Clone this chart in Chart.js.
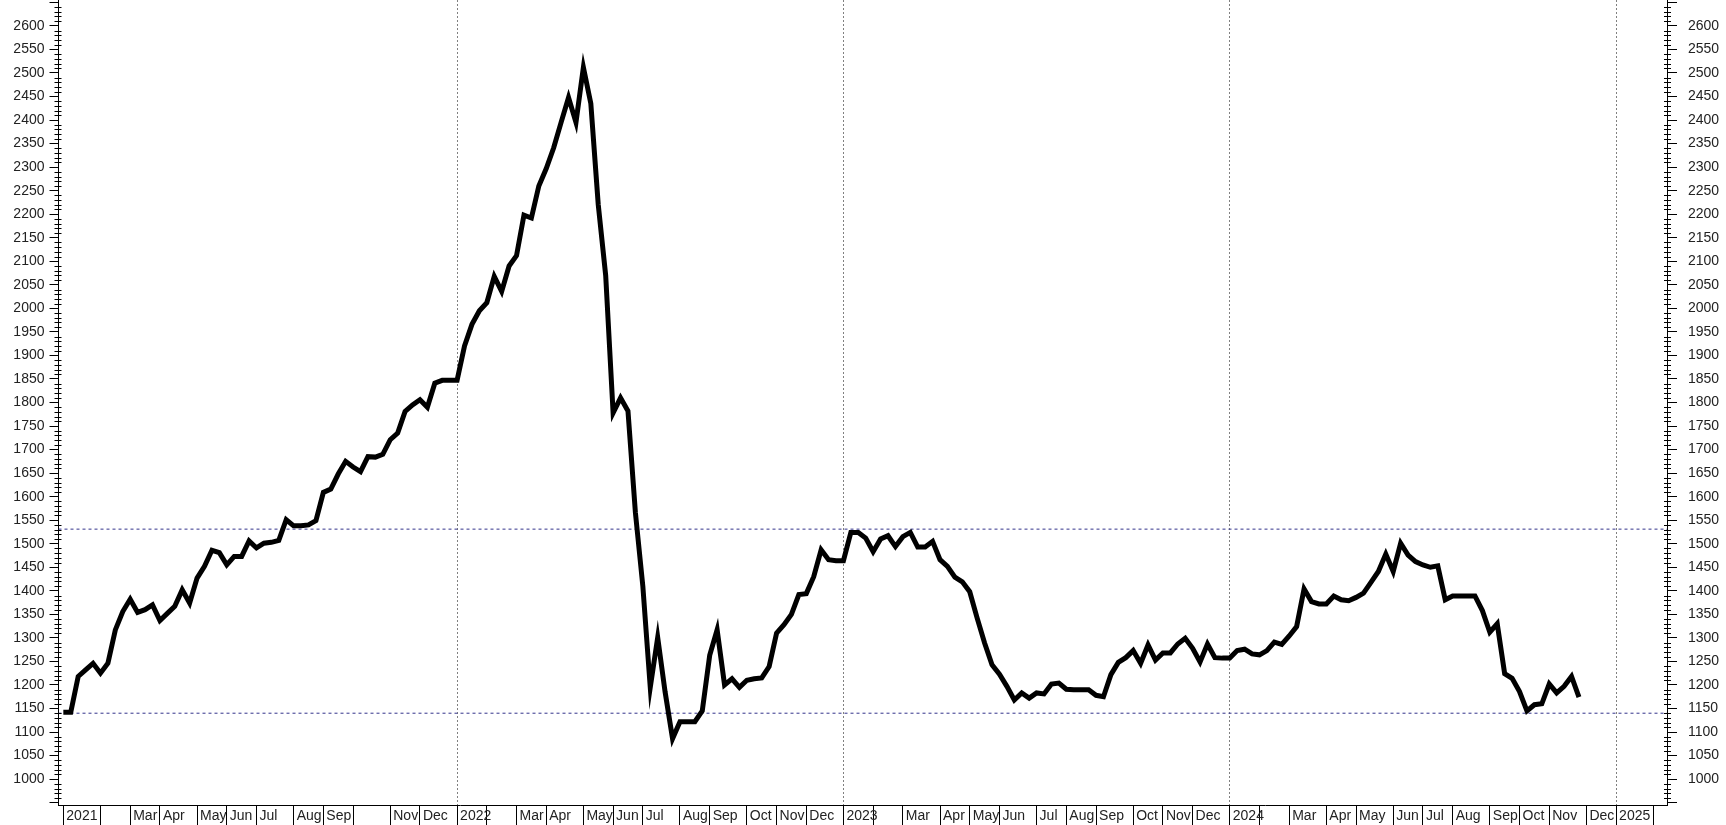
<!DOCTYPE html>
<html>
<head>
<meta charset="utf-8">
<title>Weekly close 2021-2024</title>
<script src="https://cdn.jsdelivr.net/npm/chart.js@4.4.1/dist/chart.umd.min.js"></script>
<style>
  html, body { margin: 0; padding: 0; background: #fff; }
  #wrap { position: relative; width: 1726px; height: 825px; }
</style>
</head>
<body>
<div id="wrap"><canvas id="priceChart"></canvas></div>
<script>
// weekly closes, one per Friday starting 1 Jan 2021
const startDate = Date.UTC(2021, 0, 1);
const weekCount = 216; // weeks shown on the x axis (runs into Feb 2025)

const prices2021 = [
  1142, 1142, 1218, 1232, 1246, 1225, 1246, 1317, 1356, 1382,
  1354, 1360, 1370, 1337, 1352, 1367, 1402, 1374, 1427, 1452,
  1486, 1481, 1455, 1473, 1473, 1506, 1491, 1501, 1503, 1507,
  1551, 1538, 1538, 1540, 1549, 1609, 1616, 1648, 1675, 1663,
  1653, 1685, 1684, 1690, 1721, 1735, 1781, 1795, 1806, 1790,
  1841, 1847, 1847
];
const prices2022 = [
  1847, 1920, 1966, 1995, 2012, 2068, 2036, 2090, 2112, 2198,
  2192, 2260, 2297, 2341, 2395, 2448, 2395, 2512, 2435, 2220,
  2070, 1778, 1810, 1782, 1566, 1410, 1195, 1301, 1185, 1086,
  1122, 1122, 1122, 1145, 1263, 1317, 1200, 1213, 1195, 1210,
  1213, 1215, 1239, 1310, 1328, 1350, 1392, 1394, 1430, 1487,
  1466, 1464
];
const prices2023 = [
  1464, 1524, 1524, 1512, 1483, 1510, 1517, 1494, 1515, 1524,
  1493, 1493, 1505, 1466, 1452, 1429, 1419, 1398, 1342, 1289,
  1243, 1223, 1197, 1168, 1183, 1172, 1183, 1181, 1202, 1204,
  1191, 1190, 1190, 1190, 1178, 1175, 1222, 1248, 1258, 1273,
  1246, 1285, 1253, 1268, 1268, 1287, 1299, 1278, 1249, 1287,
  1258, 1257
];
const prices2024 = [
  1257, 1273, 1276, 1266, 1264, 1273, 1291, 1286, 1304, 1324,
  1404, 1377, 1372, 1372, 1389, 1381, 1379, 1386, 1395, 1418,
  1441, 1478, 1441, 1501, 1476, 1462, 1455, 1450, 1453, 1381,
  1389, 1389, 1389, 1389, 1358, 1312, 1330, 1224, 1214, 1186,
  1145, 1158, 1160, 1202, 1183, 1197, 1218, 1174
];
const prices = prices2021.concat(prices2022, prices2023, prices2024);

// the two dashed horizontal levels
const upperLevel = 1531;
const lowerLevel = 1140;

const monthNames = ['Jan', 'Feb', 'Mar', 'Apr', 'May', 'Jun', 'Jul', 'Aug', 'Sep', 'Oct', 'Nov', 'Dec'];
const hiddenTicks = ['2021-10']; // tick drawn but no label
const priceMin = 945, priceMax = 2655;
const weekMin = -0.65, weekMax = 215.85;

function weekDate(i) {
  return new Date(startDate + i * 7 * 86400000);
}

// first week of every month gets a tick
const monthTicks = [];
for (let i = 0; i <= weekCount; i++) {
  if (i === 0 || weekDate(i).getUTCMonth() !== weekDate(i - 1).getUTCMonth()) monthTicks.push(i);
}

function isYearTick(i) {
  return i > 0 && monthTicks.includes(i) && weekDate(i).getUTCMonth() === 0;
}

function tickLabel(i) {
  const d = weekDate(i);
  const m = d.getUTCMonth();
  const key = d.getUTCFullYear() + '-' + (m + 1);
  if (m === 1 || hiddenTicks.includes(key)) return '';
  return m === 0 ? String(d.getUTCFullYear()) : monthNames[m];
}

// small ticks every 10 on both price axes
const minorTicks = {
  id: 'minorTicks',
  afterDraw(chart) {
    const ctx = chart.ctx;
    const left = chart.scales.y;
    const right = chart.scales.y2;
    ctx.save();
    ctx.strokeStyle = '#000';
    ctx.lineWidth = 1;
    ctx.beginPath();
    for (let v = Math.ceil(left.min / 10) * 10; v <= left.max; v += 10) {
      if (v % 50 === 0) continue;
      const y = Math.round(left.getPixelForValue(v)) + 0.5;
      ctx.moveTo(left.right - 4, y);
      ctx.lineTo(left.right + 3, y);
      ctx.moveTo(right.left - 3, y);
      ctx.lineTo(right.left + 4, y);
    }
    ctx.stroke();
    ctx.restore();
  }
};

const axisFont = { family: "'Liberation Sans', Arial, sans-serif", size: 14 };

function priceAxis(side) {
  return {
    position: side,
    min: priceMin,
    max: priceMax,
    afterFit: s => {
      s.width = side === 'left' ? 58.5 : 59;
      s.paddingTop = 0;
      s.paddingBottom = 0;
    },
    grid: { drawOnChartArea: false, tickLength: side === 'left' ? 9 : 10, tickColor: '#000' },
    border: { color: '#000', width: 1 },
    ticks: {
      stepSize: 50,
      includeBounds: false,
      padding: side === 'left' ? 5 : 11,
      color: '#222',
      font: axisFont,
      callback: v => (v >= 1000 && v <= 2600 ? String(v) : '')
    }
  };
}

new Chart(document.getElementById('priceChart'), {
  type: 'line',
  data: {
    datasets: [
      {
        label: 'Close',
        data: prices.map((v, i) => ({ x: i, y: v })),
        borderColor: '#000',
        borderWidth: 5,
        pointRadius: 0,
        tension: 0,
        yAxisID: 'y'
      },
      {
        label: 'Upper',
        data: [{ x: weekMin, y: upperLevel }, { x: weekMax, y: upperLevel }],
        borderColor: '#34348c',
        borderWidth: 1,
        borderDash: [3, 3],
        pointRadius: 0,
        yAxisID: 'y'
      },
      {
        label: 'Lower',
        data: [{ x: weekMin, y: lowerLevel }, { x: weekMax, y: lowerLevel }],
        borderColor: '#34348c',
        borderWidth: 1,
        borderDash: [3, 3],
        pointRadius: 0,
        yAxisID: 'y'
      }
    ]
  },
  options: {
    responsive: true,
    maintainAspectRatio: false,
    animation: false,
    layout: { padding: 0 },
    plugins: { legend: { display: false }, tooltip: { enabled: false } },
    scales: {
      x: {
        type: 'linear',
        min: weekMin,
        max: weekMax,
        afterBuildTicks: s => { s.ticks = monthTicks.map(v => ({ value: v })); },
        afterFit: s => {
          s.height = 20;
          s.paddingLeft = 0;
          s.paddingRight = 0;
        },
        grid: {
          color: c => (c.tick && isYearTick(c.tick.value) ? '#808080' : 'rgba(0,0,0,0)'),
          tickColor: '#000',
          tickLength: 20,
          tickBorderDash: []
        },
        border: { color: '#000', width: 1, dash: [2, 2] },
        ticks: {
          autoSkip: false,
          maxRotation: 0,
          minRotation: 0,
          align: 'start',
          labelOffset: 3,
          padding: -17,
          color: '#222',
          font: axisFont,
          callback: v => tickLabel(v)
        }
      },
      y: priceAxis('left'),
      y2: priceAxis('right')
    }
  },
  plugins: [minorTicks]
});
</script>
</body>
</html>
